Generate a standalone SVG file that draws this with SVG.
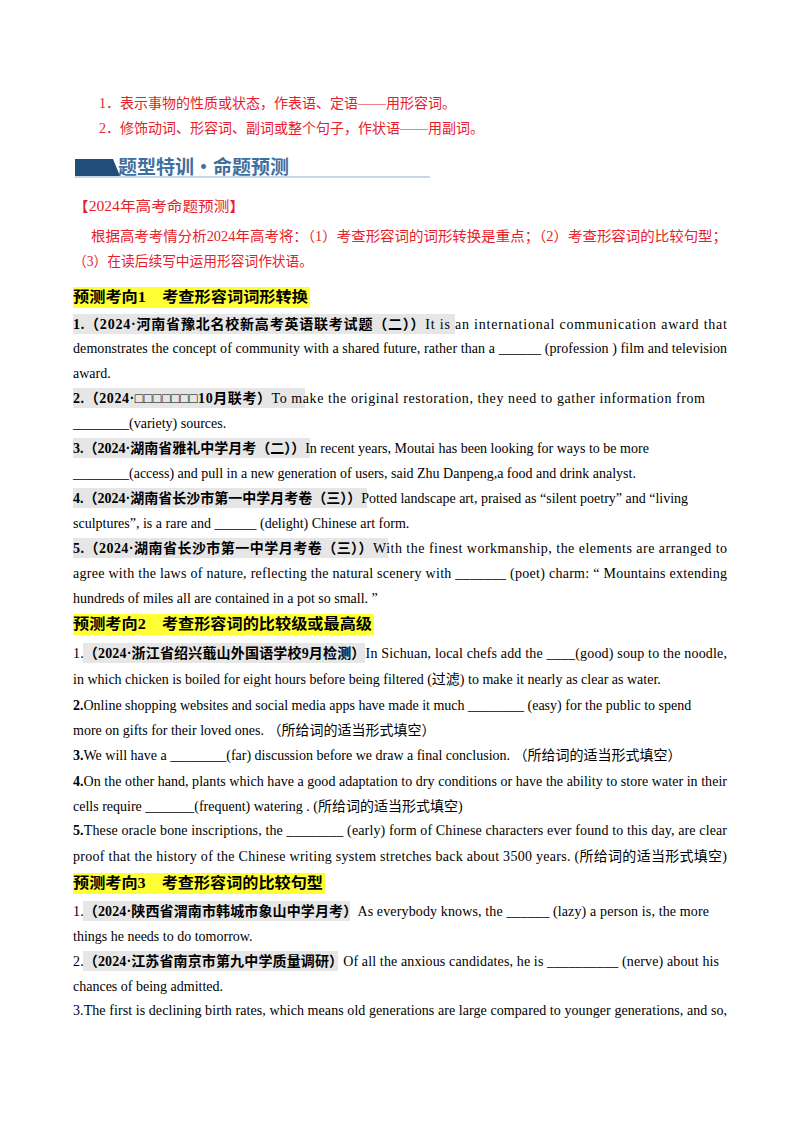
<svg xmlns="http://www.w3.org/2000/svg" width="800" height="1132" viewBox="0 0 800 1132">
<style>
text{font-family:"Liberation Serif","Noto Sans CJK SC",serif;font-size:14px;fill:#000}
.r{fill:#e8202a}
.b{font-weight:bold}
.h{font-weight:bold;font-size:15px}
.hl{fill:#ffff33}
.gl{fill:#e6e6e6}
</style>
<rect width="800" height="1132" fill="#fff"/>
<g id="intro">
<text class="r" x="99" y="108">1．表示事物的性质或状态，作表语、定语——用形容词。</text>
<text class="r" x="99" y="133">2．修饰动词、形容词、副词或整个句子，作状语——用副词。</text>
</g>
<g id="banner">
<polygon points="75,159 113,159 120,176 75,176" fill="#1f4e79"/>
<line x1="75" y1="177" x2="430" y2="177" stroke="#b7c9dc" stroke-width="1.5"/>
<text x="118" y="174" style="font-family:'Noto Sans CJK SC',sans-serif;font-size:19px;font-weight:bold;fill:#3f6f9f">题型特训·命题预测</text>
</g>
<g id="forecast">
<text class="r" x="73" y="211" textLength="172" lengthAdjust="spacingAndGlyphs">【2024年高考命题预测】</text>
<text class="r" x="91" y="241" textLength="636" lengthAdjust="spacingAndGlyphs">根据高考考情分析2024年高考将：（1）考查形容词的词形转换是重点；（2）考查形容词的比较句型；</text>
<text class="r" x="73" y="266" textLength="240" lengthAdjust="spacingAndGlyphs">（3）在读后续写中运用形容词作状语。</text>
</g>
<g id="sec1">
<rect class="hl" x="73" y="287" width="237" height="21"/>
<text class="h" x="73" y="302" textLength="235" lengthAdjust="spacingAndGlyphs">预测考向1　考查形容词词形转换</text>
<rect class="gl" x="73" y="314" width="382" height="20"/>
<text x="73" y="329" textLength="654" lengthAdjust="spacing"><tspan class="b">1.（2024·河南省豫北名校新高考英语联考试题（二））</tspan>It is an international communication award that</text>
<text x="73" y="353" textLength="654" lengthAdjust="spacing">demonstrates the concept of community with a shared future, rather than a ______ (profession ) film and television</text>
<text x="73" y="378">award.</text>
<rect class="gl" x="73" y="388" width="232" height="20"/>
<text x="73" y="403" textLength="632" lengthAdjust="spacing"><tspan class="b">2.（2024·□□□□□□□10月联考）</tspan>To make the original restoration, they need to gather information from</text>
<text x="73" y="428">________(variety) sources.</text>
<rect class="gl" x="73" y="438" width="237" height="20"/>
<text x="73" y="453"><tspan class="b">3.（2024·湖南省雅礼中学月考（二））</tspan>In recent years, Moutai has been looking for ways to be more</text>
<text x="73" y="478">________(access) and pull in a new generation of users, said Zhu Danpeng,a food and drink analyst.</text>
<rect class="gl" x="73" y="488" width="294" height="20"/>
<text x="73" y="503"><tspan class="b">4.（2024·湖南省长沙市第一中学月考卷（三））</tspan>Potted landscape art, praised as “silent poetry” and “living</text>
<text x="73" y="528">sculptures”, is a rare and ______ (delight) Chinese art form.</text>
<rect class="gl" x="73" y="538" width="315" height="20"/>
<text x="73" y="553" textLength="654" lengthAdjust="spacing"><tspan class="b">5.（2024·湖南省长沙市第一中学月考卷（三））</tspan>With the finest workmanship, the elements are arranged to</text>
<text x="73" y="578" textLength="654" lengthAdjust="spacing">agree with the laws of nature, reflecting the natural scenery with _______ (poet) charm: “ Mountains extending</text>
<text x="73" y="603">hundreds of miles all are contained in a pot so small. ”</text>
</g>
<g id="sec2">
<rect class="hl" x="73" y="614" width="301" height="21"/>
<text class="h" x="73" y="629" textLength="299" lengthAdjust="spacingAndGlyphs">预测考向2　考查形容词的比较级或最高级</text>
<rect class="gl" x="83" y="643" width="282" height="20"/>
<text x="73" y="658" textLength="654" lengthAdjust="spacing">1.<tspan class="b">（2024·浙江省绍兴蕺山外国语学校9月检测）</tspan>In Sichuan, local chefs add the ____(good) soup to the noodle,</text>
<text x="73" y="684">in which chicken is boiled for eight hours before being filtered (过滤) to make it nearly as clear as water.</text>
<text x="73" y="710"><tspan class="b">2.</tspan>Online shopping websites and social media apps have made it much ________ (easy) for the public to spend</text>
<text x="73" y="735">more on gifts for their loved ones. （所给词的适当形式填空）</text>
<text x="73" y="760"><tspan class="b">3.</tspan>We will have a ________(far) discussion before we draw a final conclusion. （所给词的适当形式填空）</text>
<text x="73" y="786" textLength="654" lengthAdjust="spacing"><tspan class="b">4.</tspan>On the other hand, plants which have a good adaptation to dry conditions or have the ability to store water in their</text>
<text x="73" y="811">cells require _______(frequent) watering . (所给词的适当形式填空)</text>
<text x="73" y="835" textLength="654" lengthAdjust="spacing"><tspan class="b">5.</tspan>These oracle bone inscriptions, the ________ (early) form of Chinese characters ever found to this day, are clear</text>
<text x="73" y="861" textLength="654" lengthAdjust="spacing">proof that the history of the Chinese writing system stretches back about 3500 years. (所给词的适当形式填空)</text>
</g>
<g id="sec3">
<rect class="hl" x="73" y="873" width="252" height="21"/>
<text class="h" x="73" y="888" textLength="250" lengthAdjust="spacingAndGlyphs">预测考向3　考查形容词的比较句型</text>
<rect class="gl" x="83" y="901" width="267" height="20"/>
<text x="73" y="916" textLength="636" lengthAdjust="spacing">1.<tspan class="b">（2024·陕西省渭南市韩城市象山中学月考）</tspan>As everybody knows, the ______ (lazy) a person is, the more</text>
<text x="73" y="941">things he needs to do tomorrow.</text>
<rect class="gl" x="83" y="951" width="255" height="20"/>
<text x="73" y="966" textLength="646" lengthAdjust="spacing">2.<tspan class="b">（2024·江苏省南京市第九中学质量调研）</tspan>Of all the anxious candidates, he is __________ (nerve) about his</text>
<text x="73" y="991">chances of being admitted.</text>
<text x="73" y="1015" textLength="654" lengthAdjust="spacing">3.The first is declining birth rates, which means old generations are large compared to younger generations, and so,</text>
</g>
</svg>
